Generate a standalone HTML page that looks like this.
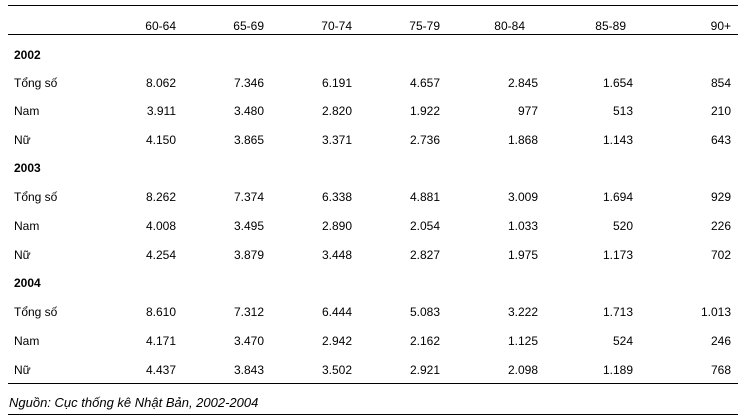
<!DOCTYPE html>
<html><head><meta charset="utf-8"><style>
body{margin:0;width:746px;height:419px;background:#fff;position:relative;overflow:hidden;font-family:"Liberation Sans",Arial,sans-serif;font-size:12px;color:#000}
.l{position:absolute;left:8px;right:8px;height:1px;background:#000}
.t{position:absolute;white-space:nowrap;line-height:14px}
.r{position:absolute;white-space:nowrap;line-height:14px;text-align:right;width:80px}
b{font-weight:bold}
</style></head><body>
<div class="l" style="top:5px"></div>
<div class="l" style="top:34px"></div>
<div class="l" style="top:383px"></div>
<div class="l" style="top:414px"></div>
<div id="c"></div>
<script>
var rights=[176,264,352,440,538,633,731];
var hr=[176,264,352,440,525,626,731];
var rows=[
["",["60-64","65-69","70-74","75-79","80-84","85-89","90+"],19],
["<b>2002</b>",null,48],
["Tổng số",["8.062","7.346","6.191","4.657","2.845","1.654","854"],76],
["Nam",["3.911","3.480","2.820","1.922","977","513","210"],104],
["Nữ",["4.150","3.865","3.371","2.736","1.868","1.143","643"],133],
["<b>2003</b>",null,161],
["Tổng số",["8.262","7.374","6.338","4.881","3.009","1.694","929"],190],
["Nam",["4.008","3.495","2.890","2.054","1.033","520","226"],219],
["Nữ",["4.254","3.879","3.448","2.827","1.975","1.173","702"],248],
["<b>2004</b>",null,276],
["Tổng số",["8.610","7.312","6.444","5.083","3.222","1.713","1.013"],305],
["Nam",["4.171","3.470","2.942","2.162","1.125","524","246"],334],
["Nữ",["4.437","3.843","3.502","2.921","2.098","1.189","768"],363]];
var h="";
rows.forEach(function(r,k){
 var R=k==0?hr:rights;
 if(r[0])h+='<div class="t" style="left:14px;top:'+r[2]+'px">'+r[0]+'</div>';
 if(r[1])r[1].forEach(function(v,i){h+='<div class="r" style="left:'+(R[i]-80)+'px;top:'+r[2]+'px">'+v+'</div>';});
});
h+='<div class="t" style="left:9px;top:396px;font-style:italic;font-size:13px">Nguồn: Cục thống kê Nhật Bản, 2002-2004</div>';
document.getElementById("c").innerHTML=h;
</script>
</body></html>
